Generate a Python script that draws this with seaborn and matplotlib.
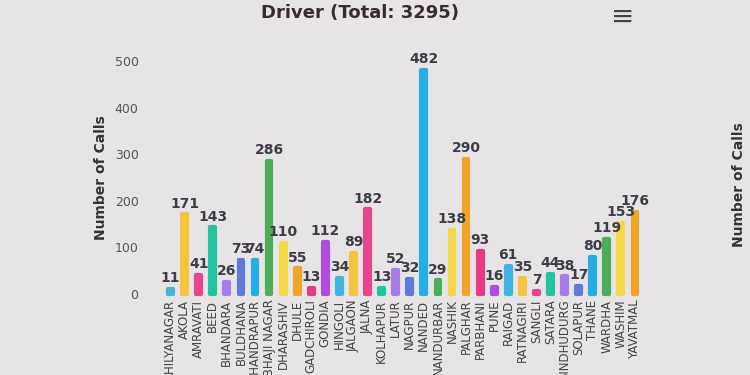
import numpy as np
import pandas as pd
import matplotlib
matplotlib.use("Agg")
import matplotlib.pyplot as plt
import seaborn as sns

distritos = ["AHILYANAGAR", "AKOLA", "AMRAVATI", "BEED", "BHANDARA", "BULDHANA",
             "CHANDRAPUR", "SAMBHAJI NAGAR", "DHARASHIV", "DHULE", "GADCHIROLI",
             "GONDIA", "HINGOLI", "JALGAON", "JALNA", "KOLHAPUR", "LATUR", "NAGPUR",
             "NANDED", "NANDURBAR", "NASHIK", "PALGHAR", "PARBHANI", "PUNE", "RAIGAD",
             "RATNAGIRI", "SANGLI", "SATARA", "SINDHUDURG", "SOLAPUR", "THANE",
             "WARDHA", "WASHIM", "YAVATMAL"]
llamadas = [11, 171, 41, 143, 26, 73, 74, 286, 110, 55, 13, 112, 34, 89, 182, 13, 52,
            32, 482, 29, 138, 290, 93, 16, 61, 35, 7, 44, 38, 17, 80, 119, 153, 176]
titulo = "Driver (Total: %d)" % sum(llamadas)

# paleta que se repite cada 12 barras
paleta = ["#3fb6e0", "#f2c53d", "#e8458f", "#22c4a0", "#a47ee6", "#5f78dc",
          "#24aee6", "#4cae5a", "#f3d84a", "#f0a52a", "#e63a86", "#b04be0"]
colores = [paleta[i % 12] for i in range(len(distritos))]

fondo = "#e7e4e6"
df = pd.DataFrame({"distrito": distritos, "llamadas": llamadas})

sns.set_style("white")
fig = plt.figure(figsize=(7.5, 3.75), dpi=100, facecolor=fondo)
ax = fig.add_axes([0.218, 0.216, 0.638, 0.621], facecolor=fondo)

sns.barplot(data=df, x="distrito", y="llamadas", hue="distrito", palette=colores,
            legend=False, width=0.34, ax=ax, saturation=1)

# bordes redondeados con linea gruesa del mismo color
for p, c in zip(ax.patches, colores):
    p.set_edgecolor(c)
    p.set_linewidth(3)
    p.set_joinstyle("round")
    p.set_clip_on(False)

for i, v in enumerate(llamadas):
    ax.text(i, v + 8, str(v), ha="center", va="bottom", fontsize=10,
            fontweight="bold", color="#3d3d48")

ax.set_ylim(0, 500)
ax.set_yticks([0, 100, 200, 300, 400, 500])
ax.tick_params(axis="y", length=0, pad=18, labelsize=9, labelcolor="#555")
ax.tick_params(axis="x", length=0, pad=4, labelsize=8.5, labelcolor="#444")
ax.set_xticks(range(len(distritos)))
ax.set_xticklabels(distritos, rotation=90, va="top", ha="center")
ax.set_xlabel("")
ax.set_ylabel("Number of Calls", fontsize=10, fontweight="bold", color="#333", labelpad=5)
sns.despine(ax=ax, left=True, bottom=True)

fig.text(0.48, 0.965, titulo, ha="center", va="center", fontsize=13,
         fontweight="bold", color="#3a2a35")
fig.text(0.83, 0.955, "≡", ha="center", va="center", fontsize=20, color="#444")
fig.text(0.976, 0.341, "Number of Calls", rotation=90, ha="left", va="bottom",
         fontsize=10, fontweight="bold", color="#333")

fig.savefig("out.png", dpi=100, facecolor=fondo)
